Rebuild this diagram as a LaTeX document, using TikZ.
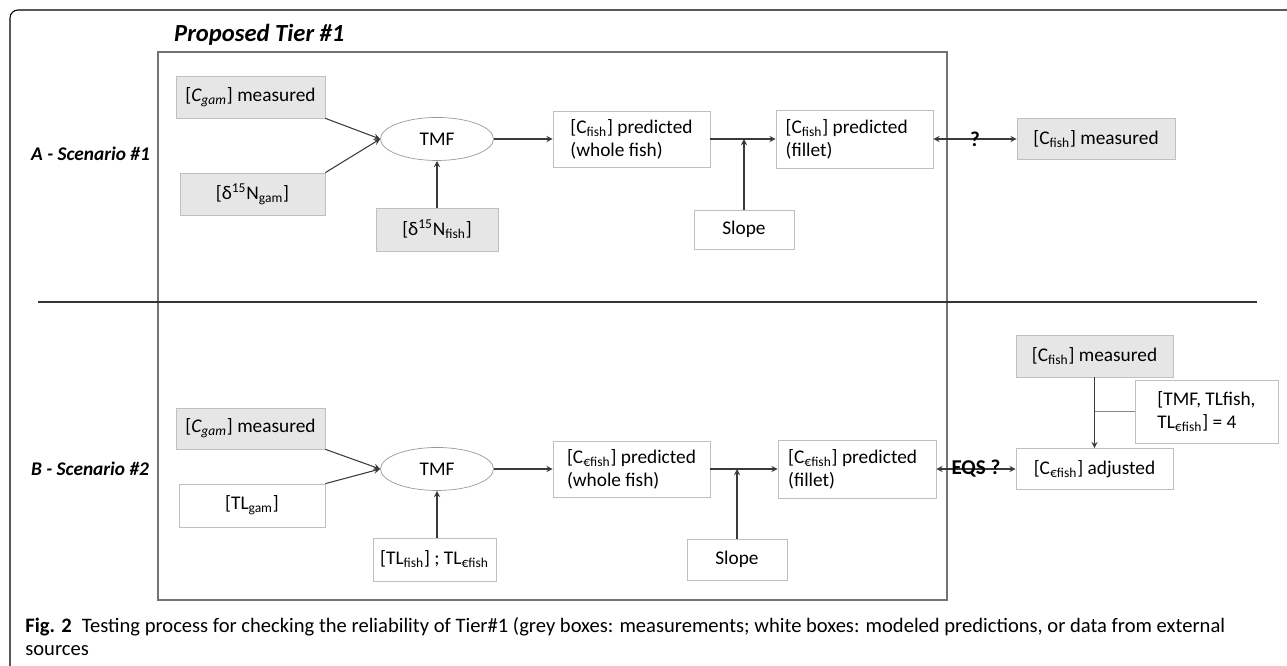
\documentclass[tikz,border=0pt]{standalone}
\usepackage{fontspec}
\setmainfont{Carlito}
\usepackage{tikz}
\usetikzlibrary{arrows.meta, positioning, shapes.geometric}

\definecolor{measgrey}{HTML}{E6E6E6}
\definecolor{boxline}{HTML}{BFBFBF}
\definecolor{arrowgrey}{HTML}{3A3A3A}

\begin{document}
\begin{tikzpicture}[>=stealth,
  every node/.style={font=\fontsize{11}{13}\selectfont},
  meas/.style={draw=boxline, fill=measgrey, inner sep=2pt},
  pred/.style={draw=boxline, fill=white, inner sep=2pt, align=left},
  tmf/.style={ellipse, draw=boxline!80!black, minimum width=2.26cm, minimum height=0.86cm},
  link/.style={->, arrowgrey, line width=0.6pt},
  query/.style={midway, text=black, font=\fontsize{12}{14}\selectfont\bfseries},
  scen/.style={font=\fontsize{11}{13}\selectfont\bfseries\itshape, anchor=west}]

\useasboundingbox (0,0) rectangle (25.74,13.32);

% Frame and tier box
\draw[line width=0.6pt, rounded corners=0.16cm] (0.2,0) -- (0.2,13.12) -- (25.74,13.12);
\draw[black!55, line width=0.8pt] (3.16,1.32) rectangle (18.94,12.28);
\draw[black!80, line width=0.8pt] (0.76,7.28) -- (25.14,7.28);
\node[anchor=west, font=\fontsize{14}{16}\selectfont\bfseries\itshape] (tier) at (3.36,12.62) {Proposed Tier \#1};

% Scenario A
\node[scen] (labA) at (0.50,10.24) {A - Scenario \#1};
\node[meas, minimum width=2.98cm, minimum height=0.84cm] (gamA) at (5.01,11.38) {[\textit{C\textsubscript{gam}}] measured};
\node[meas, minimum width=2.90cm, minimum height=0.84cm] (ngamA) at (5.05,9.44) {[δ\textsuperscript{15}N\textsubscript{gam}]};
\node[tmf] (tmfA) at (8.74,10.54) {TMF};
\node[meas, minimum width=2.44cm, minimum height=0.86cm] (nfishA) at (8.74,8.73) {[δ\textsuperscript{15}N\textsubscript{fish}]};
\node[pred, minimum width=3.14cm, minimum height=1.12cm] (wholeA) at (12.63,10.54) {[C\textsubscript{fish}] predicted\\(whole fish)};
\node[pred, minimum width=2.00cm, minimum height=0.78cm, align=center] (slopeA) at (14.88,8.73) {Slope};
\node[pred, minimum width=3.14cm, minimum height=1.16cm] (filletA) at (17.09,10.54) {[C\textsubscript{fish}] predicted\\(fillet)\phantom{ whole fish)}};
\node[meas, minimum width=3.16cm, minimum height=0.82cm] (measA) at (21.92,10.54) {[C\textsubscript{fish}] measured};

\draw[link] (gamA.south east) -- (tmfA.west);
\draw[link] (ngamA.north east) -- (tmfA.west);
\draw[link] (nfishA) -- (tmfA);
\draw[link] (tmfA) -- (wholeA);
\draw[link] (wholeA) -- (filletA);
\draw[link] (slopeA.north) -- (slopeA.north |- wholeA.east);
\draw[link, <->] (filletA) -- (measA) node[query] (qA) {?};

% Scenario B
\node[scen] (labB) at (0.50,3.94) {B - Scenario \#2};
\node[meas, minimum width=2.98cm, minimum height=0.82cm] (gamB) at (5.01,4.75) {[\textit{C\textsubscript{gam}}] measured};
\node[pred, minimum width=2.92cm, minimum height=0.86cm, align=center] (tlgamB) at (5.04,3.21) {[TL\textsubscript{gam}]};
\node[tmf] (tmfB) at (8.74,3.94) {TMF};
\node[pred, minimum width=2.46cm, minimum height=0.86cm, align=center] (tlfishB) at (8.69,2.13) {[TL\textsubscript{fish}] ; TL\textsubscript{€fish}};
\node[pred, minimum width=3.14cm, minimum height=1.12cm] (wholeB) at (12.63,3.94) {[C\textsubscript{€fish}] predicted\\(whole fish)};
\node[pred, minimum width=2.00cm, minimum height=0.82cm, align=center] (slopeB) at (14.74,2.13) {Slope};
\node[pred, minimum width=3.16cm, minimum height=1.16cm] (filletB) at (17.14,3.94) {[C\textsubscript{€fish}] predicted\\(fillet)\phantom{ whole fish)}};
\node[pred, minimum width=3.14cm, minimum height=0.82cm, align=center] (adjB) at (21.89,3.94) {[C\textsubscript{€fish}] adjusted};
\node[meas, minimum width=3.14cm, minimum height=0.84cm] (measB) at (21.89,6.20) {[C\textsubscript{fish}] measured};
\node[pred, minimum width=2.86cm, minimum height=1.26cm] (tlB) at (24.13,5.09) {[TMF, TLfish,\\TL\textsubscript{€fish}] = 4};

\draw[link] (gamB.south east) -- (tmfB.west);
\draw[link] (tlgamB.north east) -- (tmfB.west);
\draw[link] (tlfishB.north -| tmfB) -- (tmfB);
\draw[link] (tmfB) -- (wholeB);
\draw[link] (wholeB) -- (filletB);
\draw[link] (slopeB.north) -- (slopeB.north |- wholeB.east);
\draw[link, <->] (filletB) -- (adjB) node[query] (eqs) {EQS ?};
\draw[link] (measB) -- (adjB);
\draw[boxline!70!black, line width=0.6pt] (tlB.west) -- (measB.south |- tlB.west);

% Caption
\node[anchor=west, align=left, inner sep=0pt, font=\fontsize{11.7}{13.5}\selectfont] (caption) at (0.50,0.59)
  {\textbf{Fig. 2}\enspace Testing process for checking the reliability of Tier\#1 (grey boxes: measurements; white boxes: modeled predictions, or data from external\\sources};

\end{tikzpicture}
\end{document}
